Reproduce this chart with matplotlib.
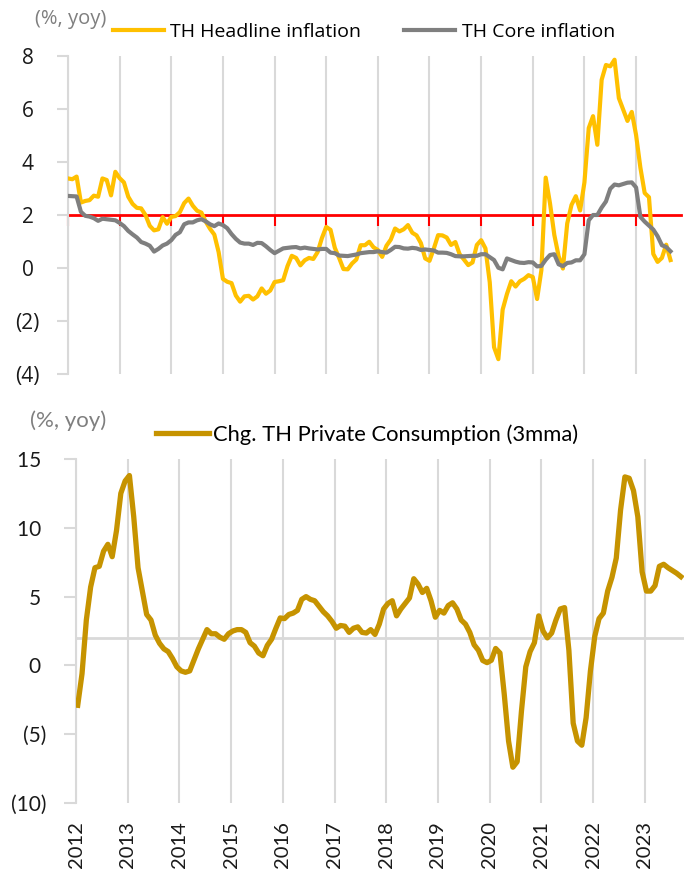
import numpy as np
import matplotlib.pyplot as plt
from matplotlib.ticker import FuncFormatter

# monthly data, Jan 2012 - Sep 2023 (%, yoy)
headline = [
    3.38, 3.35, 3.45, 2.47, 2.53, 2.56, 2.73, 2.69, 3.38, 3.32, 2.74, 3.63,
    3.39, 3.23, 2.69, 2.42, 2.27, 2.25, 2.00, 1.59, 1.42, 1.46, 1.92, 1.67,
    1.93, 1.96, 2.11, 2.45, 2.62, 2.35, 2.16, 2.09, 1.75, 1.48, 1.26, 0.60,
    -0.41, -0.52, -0.57, -1.04, -1.27, -1.07, -1.05, -1.19, -1.07, -0.77, -0.97, -0.85,
    -0.53, -0.50, -0.46, 0.07, 0.46, 0.38, 0.10, 0.29, 0.38, 0.34, 0.60, 1.13,
    1.55, 1.44, 0.76, 0.38, -0.04, -0.05, 0.17, 0.32, 0.86, 0.86, 0.99, 0.78,
    0.68, 0.42, 0.84, 1.07, 1.49, 1.38, 1.46, 1.62, 1.33, 1.23, 0.94, 0.36,
    0.27, 0.73, 1.24, 1.23, 1.15, 0.87, 0.98, 0.52, 0.32, 0.11, 0.21, 0.87,
    1.05, 0.74, -0.54, -2.99, -3.44, -1.57, -0.98, -0.50, -0.70, -0.50, -0.41, -0.27,
    -0.34, -1.17, -0.08, 3.41, 2.44, 1.25, 0.45, -0.02, 1.68, 2.38, 2.71, 2.17,
    3.23, 5.28, 5.73, 4.65, 7.10, 7.66, 7.61, 7.86, 6.41, 5.98, 5.55, 5.89,
    5.02, 3.79, 2.83, 2.67, 0.53, 0.23, 0.38, 0.88, 0.30,
]

core = [
    2.72, 2.71, 2.70, 2.12, 1.97, 1.94, 1.88, 1.78, 1.86, 1.84, 1.82, 1.80,
    1.70, 1.58, 1.40, 1.27, 1.15, 0.98, 0.92, 0.84, 0.62, 0.72, 0.85, 0.92,
    1.05, 1.25, 1.35, 1.65, 1.72, 1.72, 1.80, 1.84, 1.76, 1.65, 1.58, 1.68,
    1.62, 1.50, 1.28, 1.10, 0.96, 0.92, 0.92, 0.87, 0.95, 0.94, 0.82, 0.68,
    0.56, 0.65, 0.74, 0.76, 0.78, 0.79, 0.74, 0.77, 0.74, 0.72, 0.70, 0.72,
    0.72, 0.58, 0.56, 0.47, 0.46, 0.45, 0.48, 0.51, 0.56, 0.58, 0.60, 0.60,
    0.63, 0.60, 0.58, 0.68, 0.80, 0.79, 0.74, 0.73, 0.76, 0.74, 0.68, 0.70,
    0.68, 0.66, 0.58, 0.58, 0.57, 0.52, 0.45, 0.44, 0.44, 0.45, 0.46, 0.46,
    0.52, 0.52, 0.41, 0.30, 0.01, -0.05, 0.36, 0.30, 0.24, 0.20, 0.19, 0.22,
    0.21, 0.06, 0.08, 0.31, 0.49, 0.52, 0.14, 0.07, 0.19, 0.21, 0.29, 0.29,
    0.52, 1.80, 2.00, 2.00, 2.28, 2.51, 2.99, 3.15, 3.12, 3.17, 3.22, 3.23,
    3.04, 1.93, 1.75, 1.60, 1.45, 1.20, 0.86, 0.79, 0.63,
]

consumption = [
    -2.9, -0.6, 3.3, 5.7, 7.1, 7.2, 8.3, 8.8, 7.9, 9.8, 12.5, 13.4,
    13.8, 10.8, 7.1, 5.4, 3.7, 3.3, 2.2, 1.6, 1.2, 1.0, 0.5, -0.1,
    -0.4, -0.5, -0.4, 0.4, 1.2, 1.9, 2.6, 2.3, 2.3, 2.05, 1.9, 2.3,
    2.5, 2.6, 2.6, 2.4, 1.65, 1.4, 0.9, 0.7, 1.45, 1.9, 2.7, 3.45,
    3.4, 3.7, 3.8, 4.0, 4.8, 5.0, 4.8, 4.7, 4.3, 3.9, 3.6, 3.2,
    2.7, 2.9, 2.85, 2.4, 2.7, 2.8, 2.4, 2.35, 2.6, 2.25, 3.0, 4.1,
    4.5, 4.7, 3.6, 4.1, 4.5, 4.9, 6.3, 5.9, 5.3, 5.6, 4.7, 3.5,
    4.0, 3.8, 4.35, 4.55, 4.1, 3.3, 3.0, 2.4, 1.5, 1.1, 0.36, 0.2,
    0.37, 1.23, 0.9, -2.1, -5.5, -7.4, -7.0, -3.3, -0.1, 1.0, 1.65, 3.6,
    2.5, 2.0, 2.35, 3.3, 4.1, 4.2, 1.1, -4.2, -5.5, -5.8, -3.8, -0.4,
    2.1, 3.4, 3.8, 5.4, 6.4, 7.8, 11.3, 13.7, 13.6, 12.7, 10.8, 6.8,
    5.4, 5.4, 5.8, 7.2, 7.35, 7.1, 6.9, 6.7, 6.45,
]

years = list(range(2012, 2024))

t = 2012 + np.arange(len(headline)) / 12
t2 = 2012 + (np.arange(len(consumption)) + 0.4) / 12

GRID = '#d9d9d9'
TXT = '#1a1a1a'


def paren(v, pos):
    v = int(round(v))
    return f'({abs(v)})' if v < 0 else f'{v} '


fig = plt.figure(figsize=(6.84, 8.73), dpi=100)

# ---- top panel: inflation
ax1 = fig.add_axes([68 / 684, 1 - 374 / 873, 613 / 684, 318 / 873])
ax1.plot(t, headline, color='#FFC000', lw=3, label='TH Headline inflation', zorder=3)
ax1.plot(t, core, color='#7F7F7F', lw=3, label='TH Core inflation', zorder=3)
ax1.set_xlim(2012, 2023.87)
ax1.set_ylim(-4, 8)
ax1.set_yticks(range(-4, 9, 2))
ax1.yaxis.set_major_formatter(FuncFormatter(paren))
ax1.set_xticks(years)
ax1.set_axisbelow(True)
ax1.grid(axis='x', color=GRID, lw=1.5)
for s in ['top', 'right']:
    ax1.spines[s].set_visible(False)
ax1.spines['left'].set_color(GRID)
ax1.spines['left'].set_linewidth(1.5)
ax1.spines['bottom'].set_position(('data', 2))
ax1.spines['bottom'].set_color('red')
ax1.spines['bottom'].set_linewidth(2)
ax1.spines['bottom'].set_zorder(2)
ax1.tick_params(axis='x', direction='out', length=8, width=1.5, color='red', labelbottom=False)
ax1.tick_params(axis='y', direction='out', length=8, width=1.5, color=GRID,
                labelsize=15, labelcolor=TXT, pad=12.5)
for lb in ax1.get_yticklabels():
    lb.set_fontfamily('Open Sans')

ax1.legend(loc='lower left', bbox_to_anchor=(113 / 684, 1 - 41 / 873),
           bbox_transform=fig.transFigure, ncol=2, frameon=False,
           prop={'family': 'Open Sans', 'size': 14}, handlelength=2.6,
           handletextpad=0.35, columnspacing=2.2, borderpad=0, borderaxespad=0)
fig.text(35 / 684, 1 - 19 / 873, '(%, yoy)', color='#7F7F7F', fontsize=14.5,
         family='Open Sans', va='center', ha='left')

# ---- bottom panel: private consumption
ax2 = fig.add_axes([76 / 684, 1 - 803 / 873, 608 / 684, 344 / 873])
ax2.plot(t2, consumption, color='#C69300', lw=3.8, label='Chg. TH Private Consumption (3mma)', zorder=3)
ax2.axhline(2, color=GRID, lw=2, zorder=1)
ax2.set_xlim(2012, 2023.76)
ax2.set_ylim(-10, 15)
ax2.set_yticks(range(-10, 16, 5))
ax2.yaxis.set_major_formatter(FuncFormatter(paren))
ax2.set_xticks(years)
ax2.set_xticklabels([str(y) for y in years], rotation=90, family='Lato')
ax2.set_axisbelow(True)
ax2.grid(axis='x', color=GRID, lw=1.5)
for s in ['top', 'right', 'bottom']:
    ax2.spines[s].set_visible(False)
ax2.spines['left'].set_color(GRID)
ax2.spines['left'].set_linewidth(1.5)
ax2.tick_params(axis='x', length=0, labelsize=14.5, labelcolor=TXT, pad=13)
ax2.tick_params(axis='y', direction='out', length=9, width=1.5, color=GRID,
                labelsize=15, labelcolor=TXT, pad=12)
for lb in ax2.get_yticklabels():
    lb.set_fontfamily('Lato')

ax2.legend(loc='lower left', bbox_to_anchor=(156 / 684, 1 - 445 / 873),
           bbox_transform=fig.transFigure, frameon=False,
           prop={'family': 'Lato', 'size': 15.8}, handlelength=2.4,
           handletextpad=0.2, borderpad=0, borderaxespad=0)
fig.text(30 / 684, 1 - 421 / 873, '(%, yoy)', color='#7F7F7F', fontsize=16,
         family='Lato', va='center', ha='left')

fig.savefig('out.png', dpi=100)
